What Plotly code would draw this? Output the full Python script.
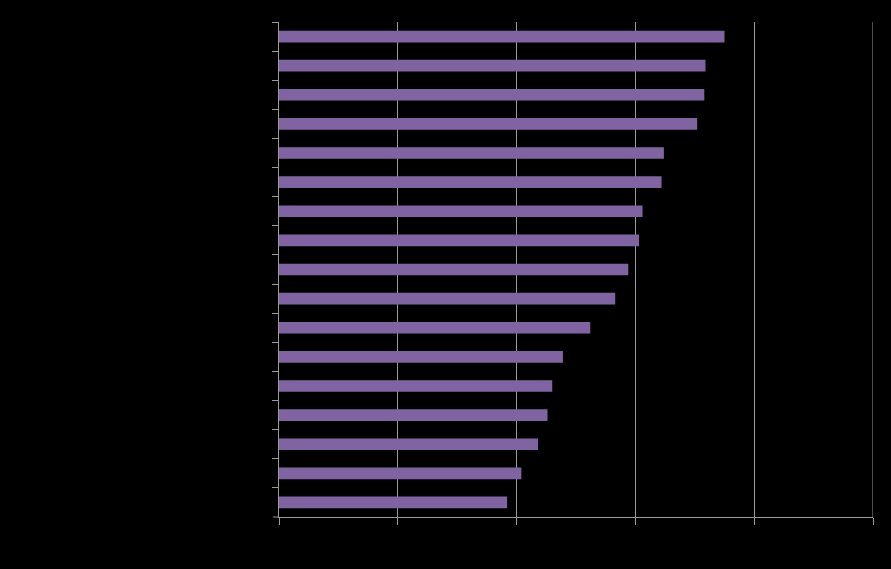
import plotly.graph_objects as go

# category names are drawn in black on black in the original, so they are not legible
categories = [f"Item {i}" for i in range(1, 18)]
values = [37.5, 35.9, 35.8, 35.2, 32.4, 32.2, 30.6, 30.3, 29.4, 28.3,
          26.2, 23.9, 23.0, 22.6, 21.8, 20.4, 19.2]
x_ticks = [0, 10, 20, 30, 40, 50]

grey = "#9a9a9a"

fig = go.Figure(go.Bar(
    x=values, y=categories, orientation="h",
    marker=dict(color="#8064A2", line=dict(width=0)),
    width=0.4,
))

fig.update_layout(
    width=891, height=569,
    margin=dict(l=279, r=18, t=22, b=52),
    paper_bgcolor="black", plot_bgcolor="black",
    font=dict(family="Liberation Sans, Arial", size=12, color="black"),
    showlegend=False,
    xaxis=dict(range=[0, 50], tickvals=x_ticks, showgrid=True, gridcolor=grey, gridwidth=1,
               showline=True, linecolor=grey, linewidth=1, ticks="outside", ticklen=7,
               tickcolor=grey, zeroline=False, tickfont=dict(color="black")),
    yaxis=dict(autorange="reversed", tickson="boundaries", ticks="outside", ticklen=6,
               tickcolor=grey, showline=True, linecolor=grey, linewidth=1, showgrid=False,
               tickfont=dict(color="black")),
)

# plotly skips the gridline at the end of the range; the original draws it
fig.add_shape(type="line", xref="x", yref="paper", x0=x_ticks[-1], x1=x_ticks[-1], y0=0, y1=1,
              line=dict(color=grey, width=1))
# the horizontal axis line runs a little past the vertical axis, as in the original
fig.add_shape(type="line", xref="paper", yref="paper", x0=-6 / 594, x1=0, y0=0, y1=0,
              line=dict(color=grey, width=1))

fig.write_html("out.html", config={"displayModeBar": False},
               post_script="document.body.style.margin='0';"
                           "document.body.style.background='black';"
                           "document.body.style.overflow='hidden';")
